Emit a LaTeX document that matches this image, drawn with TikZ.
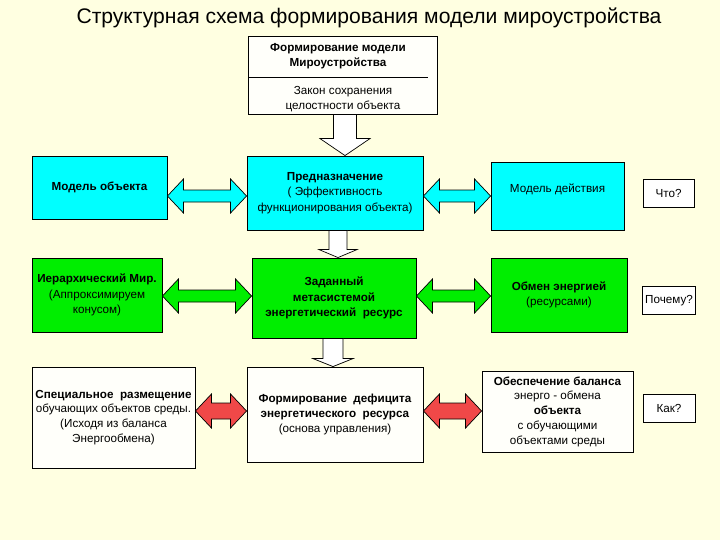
\documentclass[tikz,border=0pt]{standalone}
\usepackage{fontspec}
\setmainfont{Liberation Sans}
\usetikzlibrary{calc}

\definecolor{bgcream}{RGB}{255,255,225}
\definecolor{boxcyan}{RGB}{0,255,255}
\definecolor{boxgreen}{RGB}{0,238,0}
\definecolor{arrowred}{RGB}{240,72,72}
\definecolor{boxwhite}{RGB}{255,255,250}

\tikzset{
	label text/.style={align=center, inner sep=2pt, font=\fontsize{8.3}{11}\selectfont},
	block/.style={label text, draw=black, line width=0.6pt},
	qbox/.style={block, fill=white, minimum width=1.3cm, minimum height=0.72cm},
	blockarrow/.style={draw=black, line width=0.5pt}
}

% double block arrow: from node, to node, y, fill, shaft half height
\newcommand{\dblarrow}[5]{%
	\filldraw[blockarrow, fill=#4] let \p1=(#1.east |- 0,#3), \p2=(#2.west |- 0,#3) in
	(\p1) -- ($(\p1)+(16,-17)$) -- ($(\p1)+(16,-#5)$) -- ($(\p2)+(-16,-#5)$) -- ($(\p2)+(-16,-17)$) -- (\p2)
	-- ($(\p2)+(-16,17)$) -- ($(\p2)+(-16,#5)$) -- ($(\p1)+(16,#5)$) -- ($(\p1)+(16,17)$) -- cycle;}

% hollow down arrow: from node, to node, x, head height, head half width, shaft half width
\newcommand{\downarrowblock}[6]{%
	\filldraw[blockarrow, fill=white] let \p1=(#1.south -| #3,0), \p2=(#2.north -| #3,0) in
	($(\p1)+(-#6,0)$) -- ($(\p2)+(-#6,-#4)$) -- ($(\p2)+(-#5,-#4)$) -- (\p2)
	-- ($(\p2)+(#5,-#4)$) -- ($(\p2)+(#6,-#4)$) -- ($(\p1)+(#6,0)$) -- cycle;}

\begin{document}
\begin{tikzpicture}[x=0.025cm, y=-0.025cm]
	
	\useasboundingbox[fill=bgcream] (0,0) rectangle (720,540);
	
	% title
	\node[font=\fontsize{15}{17}\selectfont] (title) at (369,18) {Структурная схема формирования модели мироустройства};
	
	% top box
	\node[block, fill=boxwhite, minimum width=4.725cm, minimum height=1.95cm] (worldbox) at (342.5,75) {};
	\draw[line width=0.5pt] (248,77) -- (428,77);
	\node[label text] (worldhead) at (338,56) {\textbf{Формирование модели}\\\textbf{Мироустройства}};
	\node[label text] (worldlaw) at (343,99) {Закон сохранения\\целостности объекта};
	
	% row 1
	\node[block, fill=boxcyan, minimum width=3.375cm, minimum height=1.575cm] (objmodel) at (99.5,187.5) {\textbf{Модель объекта}};
	\node[block, fill=boxcyan, minimum width=4.4cm, minimum height=1.85cm] (purpose) at (335,193) {\textbf{Предназначение}\\( Эффективность\\функционирования объекта)};
	\node[block, fill=boxcyan, minimum width=3.325cm, minimum height=1.7cm] (actmodel) at (557.5,196) {Модель действия\\\mbox{}};
	\node[qbox, minimum width=1.275cm, minimum height=0.7cm] (what) at (668.5,193) {Что?};
	
	% row 2
	\node[block, fill=boxgreen, minimum width=3.25cm, minimum height=1.85cm] (hierworld) at (97,295) {\textbf{Иерархический Мир.}\\(Аппроксимируем\\конусом)};
	\node[block, fill=boxgreen, minimum width=4.1cm, minimum height=2cm] (metares) at (334,298) {\textbf{Заданный}\\\textbf{метасистемой}\\\textbf{энергетический\ \ ресурс}};
	\node[block, fill=boxgreen, minimum width=3.4cm, minimum height=1.85cm] (exchange) at (559,295) {\textbf{Обмен энергией}\\(ресурсами)};
	\node[qbox] (why) at (669,300.5) {Почему?};
	
	% row 3
	\node[block, fill=boxwhite, minimum width=4.075cm, minimum height=2.525cm, font=\fontsize{8.3}{10.5}\selectfont] (placement) at (113.5,417.5) {\textbf{Специальное\ \ размещение}\\обучающих объектов среды.\\(Исходя из баланса\\Энергообмена)};
	\node[block, fill=boxwhite, minimum width=4.4cm, minimum height=2.375cm, font=\fontsize{8.3}{10.5}\selectfont] (deficit) at (335,414.5) {\textbf{Формирование\ \ дефицита}\\\textbf{энергетического\ \ ресурса}\\(основа управления)};
	\node[block, fill=boxwhite, minimum width=3.775cm, minimum height=2.025cm, font=\fontsize{8.3}{10.5}\selectfont] (balance) at (557.5,411.5) {\textbf{Обеспечение баланса}\\энерго - обмена\\\textbf{объекта}\\с обучающими\\объектами среды};
	\node[qbox] (how) at (669,408.5) {Как?};
	
	% horizontal arrows
	\dblarrow{objmodel}{purpose}{196}{boxcyan}{6}
	\dblarrow{purpose}{actmodel}{196}{boxcyan}{6}
	\dblarrow{hierworld}{metares}{296}{boxgreen}{6}
	\dblarrow{metares}{exchange}{296}{boxgreen}{6}
	\dblarrow{placement}{deficit}{411}{arrowred}{8}
	\dblarrow{deficit}{balance}{411}{arrowred}{8}
	
	% down arrows
	\downarrowblock{worldbox}{purpose}{345}{17}{25}{11.5}
	\downarrowblock{purpose}{metares}{338}{8}{19}{9}
	\downarrowblock{metares}{deficit}{333}{8}{20}{10}
	
\end{tikzpicture}
\end{document}
